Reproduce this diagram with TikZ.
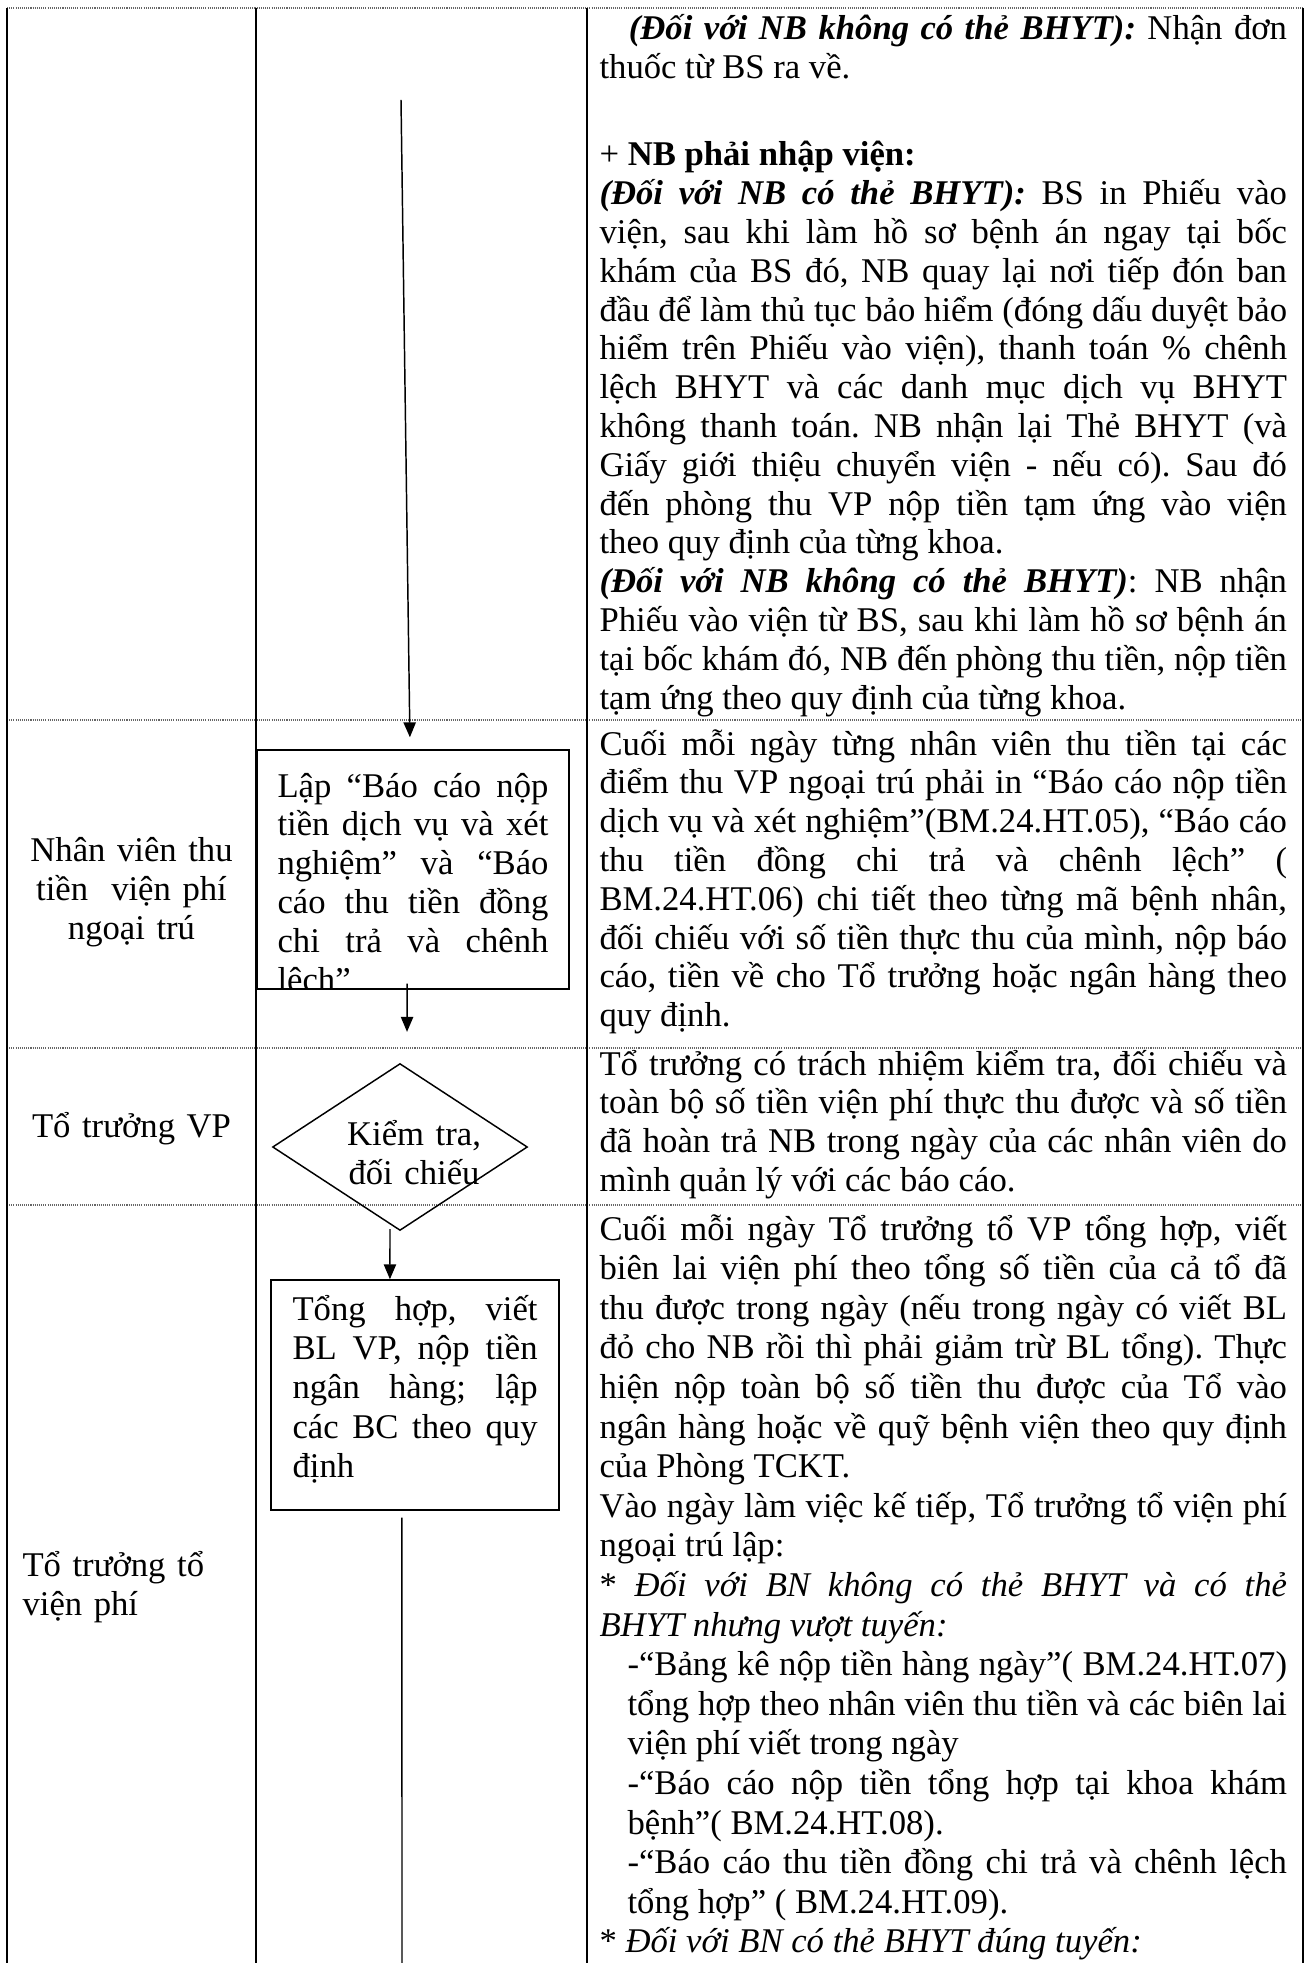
\documentclass[tikz,border=0pt]{standalone}
\usepackage{fontspec}
\setmainfont{Liberation Serif}
\usetikzlibrary{arrows.meta,shapes.geometric,positioning}
\hyphenpenalty=10000
\exhyphenpenalty=10000
\tolerance=10000
\hbadness=10000
\frenchspacing

\newcommand{\bi}[1]{\textbf{\textit{#1}}}

\tikzset{
	lane/.style={line width=0.75pt},
	rowsep/.style={black!60, line width=0.4pt, dash pattern=on 0.4pt off 0.4pt},
	procbox/.style={draw, line width=0.55pt, inner sep=0pt},
	decision/.style={diamond, draw, line width=0.55pt, inner sep=0pt},
	flowarrow/.style={line width=0.55pt, -{Triangle[width=4.6pt, length=5.6pt]}},
	boxtext/.style={inner sep=0pt, anchor=base west, align=justify},
	notecell/.style={boxtext, text width=257.8pt, font=\fontsize{13pt}{14.55pt}\selectfont},
	role/.style={inner sep=0pt, anchor=base, align=center, text width=84pt},
}

\begin{document}
\begin{tikzpicture}[x=0.375pt, y=-0.375pt, font=\fontsize{13pt}{14.8pt}\selectfont]
	\useasboundingbox (0,0) rectangle (1308,1963);
	% table rows and columns
	\foreach \y in {8,720,1048,1205}
		\draw[rowsep] (7,\y) -- (1303,\y);
	\foreach \x in {7,256,587,1303}
		\draw[lane] (\x,8) -- (\x,1963);

	% who does it
	\node[role] (nhanvien) at (131.5,861) {Nhân viên thu\\tiền~ viện phí\\ngoại trú};
	\node[role] (totruongvp) at (131.5,1137) {Tổ trưởng VP};
	\node[role, anchor=base west, align=left] (totruongto) at (22,1576) {Tổ trưởng tổ\\viện phí};

	% flow
	\coordinate (start) at (401,100);
	\coordinate (end) at (402,1963);
	\node[procbox, minimum width=117pt, minimum height=89.6pt] (lap) at (413,869.5) {};
	\begin{scope}
		\clip (lap.south west) rectangle (lap.north east);
		\node[boxtext, text width=101.6pt, font=\fontsize{13pt}{14.55pt}\selectfont] (laptext) at (277,797)
		{Lập “Báo cáo nộp\linebreak tiền dịch vụ và xét\linebreak nghiệm” và “Báo\linebreak
			cáo thu tiền đồng\linebreak chi trả và chênh\linebreak lệch”};
	\end{scope}
	\node[decision, minimum width=95.6pt, minimum height=62.6pt] (kiemtra) at (400,1147) {};
	\node[inner sep=0pt, anchor=base, align=center, text width=60pt] (kiemtralbl) at (414,1145)
	{Kiểm tra,\\đối chiếu};
	\node[procbox, minimum width=108pt, minimum height=86.25pt] (tonghop) at (415,1395) {};
	\node[boxtext, text width=91.9pt] (tonghoptext) at (292,1320)
	{Tổng hợp, viết\linebreak BL VP, nộp tiền\linebreak ngân hàng; lập\linebreak
		các BC theo quy\linebreak định};

	\draw[flowarrow, shorten >=4.5pt] (start) -- ([xshift=-1.1pt]lap.north);
	\draw[flowarrow, shorten <=-2.25pt, shorten >=11.6pt] ([xshift=-2.2pt]lap.south) -- ([xshift=2.6pt]kiemtra.north);
	\draw[flowarrow, shorten <=-0.75pt] ([xshift=-3.75pt]kiemtra.south) -- ([xshift=-9.4pt]tonghop.north);
	\draw[line width=0.55pt, shorten <=2.6pt] ([xshift=-4.9pt]tonghop.south) -- (end);

	% what is done
	\node[notecell] (notekham) at (599,40)
	{\hspace*{11pt}\bi{(Đối với NB không có thẻ BHYT):} Nhận đơn\linebreak thuốc từ BS ra về.};
	\node[notecell] (notenhap) at (599,166)
	{+ \textbf{NB phải nhập viện:}\par
		\bi{(Đối với NB có thẻ BHYT):} BS in Phiếu vào\linebreak viện, sau khi làm hồ sơ bệnh án ngay tại bốc\linebreak
		khám của BS đó, NB quay lại nơi tiếp đón ban\linebreak đầu để làm thủ tục bảo hiểm (đóng dấu duyệt bảo\linebreak
		hiểm trên Phiếu vào viện), thanh toán \% chênh\linebreak lệch BHYT và các danh mục dịch vụ BHYT\linebreak
		không thanh toán. NB nhận lại Thẻ BHYT (và\linebreak Giấy giới thiệu chuyển viện - nếu có). Sau đó\linebreak
		đến phòng thu VP nộp tiền tạm ứng vào viện\linebreak theo quy định của từng khoa.\par
		\bi{(Đối với NB không có thẻ BHYT)}: NB nhận\linebreak Phiếu vào viện từ BS, sau khi làm hồ sơ bệnh án\linebreak
		tại bốc khám đó, NB đến phòng thu tiền, nộp tiền\linebreak tạm ứng theo quy định của từng khoa.};
	\node[notecell] (notenhanvien) at (599,755)
	{Cuối mỗi ngày từng nhân viên thu tiền tại các\linebreak điểm thu VP ngoại trú phải in “Báo cáo nộp tiền\linebreak
		dịch vụ và xét nghiệm”(BM.24.HT.05), “Báo cáo\linebreak thu tiền đồng chi trả và chênh lệch” (\linebreak
		BM.24.HT.06) chi tiết theo từng mã bệnh nhân,\linebreak đối chiếu với số tiền thực thu của mình, nộp báo\linebreak
		cáo, tiền về cho Tổ trưởng hoặc ngân hàng theo\linebreak quy định.};
	\node[notecell] (notekiemtra) at (599,1075)
	{Tổ trưởng có trách nhiệm kiểm tra, đối chiếu và\linebreak toàn bộ số tiền viện phí thực thu được và số tiền\linebreak
		đã hoàn trả NB trong ngày của các nhân viên do\linebreak mình quản lý với các báo cáo.};
	\node[notecell, font=\fontsize{13pt}{14.85pt}\selectfont] (notetonghop) at (599,1240)
	{Cuối mỗi ngày Tổ trưởng tổ VP tổng hợp, viết\linebreak biên lai viện phí theo tổng số tiền của cả tổ đã\linebreak
		thu được trong ngày (nếu trong ngày có viết BL\linebreak đỏ cho NB rồi thì phải giảm trừ BL tổng). Thực\linebreak
		hiện nộp toàn bộ số tiền thu được của Tổ vào\linebreak ngân hàng hoặc về quỹ bệnh viện theo quy định\linebreak
		của Phòng TCKT.\par
		Vào ngày làm việc kế tiếp, Tổ trưởng tổ viện phí\linebreak ngoại trú lập:\par
		* \textit{Đối với BN không có thẻ BHYT và có thẻ\linebreak BHYT nhưng vượt tuyến:}\par
		{\leftskip=10.5pt -“Bảng kê nộp tiền hàng ngày”( BM.24.HT.07)\linebreak tổng hợp theo nhân viên thu tiền và các biên lai\linebreak
			viện phí viết trong ngày\par
			-“Báo cáo nộp tiền tổng hợp tại khoa khám\linebreak bệnh”( BM.24.HT.08).\par
			-“Báo cáo thu tiền đồng chi trả và chênh lệch\linebreak tổng hợp” ( BM.24.HT.09).\par}
		* \textit{Đối với BN có thẻ BHYT đúng tuyến:}};
\end{tikzpicture}
\end{document}
